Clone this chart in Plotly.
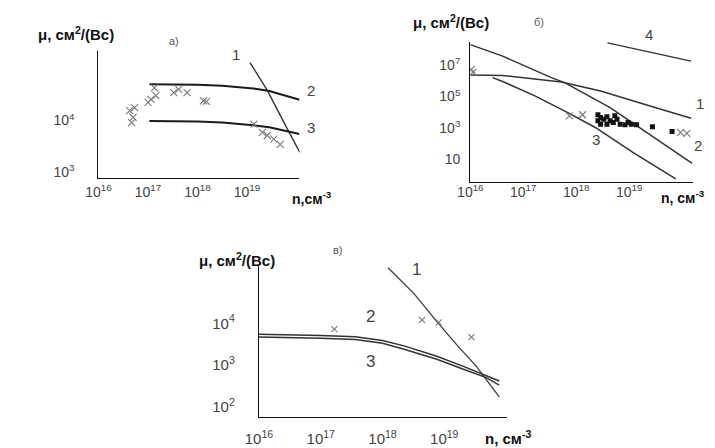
import plotly.graph_objects as go

W, H = 715, 448

# ---------------- Panel а) ----------------
a_c1_lgn = [19.06, 19.41, 19.84, 20.07]
a_c1_lgmu = [5.12, 4.58, 3.79, 3.38]
a_c2_lgn = [17.03, 17.5, 18.0, 18.5, 18.9, 19.2, 19.45, 19.75, 20.06]
a_c2_lgmu = [4.70, 4.70, 4.69, 4.67, 4.64, 4.61, 4.57, 4.49, 4.40]
a_c3_lgn = [17.03, 17.5, 18.0, 18.5, 18.9, 19.2, 19.45, 19.8, 20.06]
a_c3_lgmu = [3.99, 3.99, 3.98, 3.96, 3.93, 3.90, 3.87, 3.79, 3.74]
a_exp_lgn = [16.63, 16.70, 16.67, 16.73, 17.00, 17.06, 17.16, 17.13, 17.52, 17.62, 17.79,
             18.12, 18.18, 19.14, 19.31, 19.41, 19.54, 19.67]
a_exp_lgmu = [4.19, 4.06, 3.96, 4.25, 4.35, 4.41, 4.48, 4.63, 4.54, 4.60, 4.54,
              4.38, 4.37, 3.93, 3.77, 3.71, 3.64, 3.54]

# ---------------- Panel б) ----------------
b_c1_lgn = [16.0, 16.61, 17.72, 18.46, 19.38, 20.17]
b_c1_lgmu = [6.37, 6.34, 5.92, 5.35, 4.41, 3.62]
b_c2_lgn = [16.0, 16.61, 17.53, 17.78, 18.64, 19.20, 19.69, 20.19]
b_c2_lgmu = [8.30, 7.57, 6.20, 5.88, 4.30, 3.03, 1.87, 0.75]
b_c3_lgn = [16.42, 16.61, 17.22, 17.84, 18.36, 19.07, 19.88]
b_c3_lgmu = [6.20, 5.95, 5.04, 3.98, 3.03, 1.45, -0.24]
b_c4_lgn = [18.59, 20.17]
b_c4_lgmu = [8.41, 7.25]
b_x_lgn = [16.02, 16.05, 17.87, 18.12, 19.97, 20.09]
b_x_lgmu = [6.72, 6.55, 3.77, 3.84, 2.72, 2.65]
b_dot_lgn = [18.41, 18.41, 18.46, 18.52, 18.58, 18.64, 18.70, 18.77, 18.83, 18.92,
             18.98, 19.04, 19.14, 18.46, 18.58, 18.73, 19.44, 19.81]
b_dot_lgmu = [3.84, 3.46, 3.66, 3.56, 3.71, 3.46, 3.35, 3.56, 3.24, 3.20,
              3.35, 3.24, 3.20, 3.24, 3.24, 3.77, 3.08, 2.78]

# ---------------- Panel в) ----------------
c_c1_lgn = [18.09, 18.51, 18.88, 19.20, 19.52, 19.68, 19.89]
c_c1_lgmu = [5.33, 4.71, 4.04, 3.49, 2.97, 2.65, 2.24]
c_c2_lgn = [16.0, 16.5, 17.0, 17.56, 18.0, 18.35, 18.88, 19.31, 19.68, 19.89]
c_c2_lgmu = [3.74, 3.73, 3.71, 3.68, 3.59, 3.46, 3.21, 2.97, 2.75, 2.62]
c_c3_lgn = [16.0, 16.5, 17.0, 17.56, 18.0, 18.35, 18.88, 19.31, 19.68, 19.89]
c_c3_lgmu = [3.67, 3.66, 3.64, 3.61, 3.52, 3.38, 3.14, 2.90, 2.70, 2.52]
c_exp_lgn = [17.22, 18.64, 18.91, 19.44]
c_exp_lgmu = [3.86, 4.08, 4.02, 3.67]

# tick labels
x_tick_exp = [16, 17, 18, 19]
a_y_tick_exp = [3, 4]
b_y_tick_exp = [1, 3, 5, 7]
c_y_tick_exp = [2, 3, 4]


def pw(v):
    return [10 ** e for e in v]


def sup(e):
    return "10" if e == 1 else "10<sup>%d</sup>" % e


FONT = "Liberation Sans, Arial, sans-serif"
LINE = "#1a1a1a"
GREY = "#555555"

fig = go.Figure()


def curve(xs, ys, ax, width=1.6, color=LINE):
    fig.add_trace(go.Scatter(x=pw(xs), y=pw(ys), mode="lines",
                             line=dict(color=color, width=width),
                             xaxis="x" + ax, yaxis="y" + ax, showlegend=False,
                             hoverinfo="skip"))


def xmarks(xs, ys, ax, size=7):
    fig.add_trace(go.Scatter(x=pw(xs), y=pw(ys), mode="markers",
                             marker=dict(symbol="x-thin", size=size,
                                         line=dict(width=1.1, color="#7a7a7a")),
                             xaxis="x" + ax, yaxis="y" + ax, showlegend=False,
                             hoverinfo="skip"))


# panel a -> axes "" (x, y)
curve(a_c1_lgn, a_c1_lgmu, "", 1.4, "#333")
curve(a_c2_lgn, a_c2_lgmu, "", 2.0)
curve(a_c3_lgn, a_c3_lgmu, "", 2.0)
xmarks(a_exp_lgn, a_exp_lgmu, "")

# panel b -> axes 2
curve(b_c1_lgn, b_c1_lgmu, "2", 1.5, "#333")
curve(b_c2_lgn, b_c2_lgmu, "2", 1.5, "#333")
curve(b_c3_lgn, b_c3_lgmu, "2", 1.5, "#333")
curve(b_c4_lgn, b_c4_lgmu, "2", 1.5, "#333")
xmarks(b_x_lgn, b_x_lgmu, "2")
fig.add_trace(go.Scatter(x=pw(b_dot_lgn), y=pw(b_dot_lgmu), mode="markers",
                         marker=dict(symbol="square", size=5, color="#111"),
                         xaxis="x2", yaxis="y2", showlegend=False, hoverinfo="skip"))

# panel c -> axes 3
curve(c_c1_lgn, c_c1_lgmu, "3", 1.4, "#444")
curve(c_c2_lgn, c_c2_lgmu, "3", 1.5, "#333")
curve(c_c3_lgn, c_c3_lgmu, "3", 1.5, "#333")
xmarks(c_exp_lgn, c_exp_lgmu, "3", 6)


def xax(dom, rng, standoff, anchor, size=14):
    return dict(type="log", domain=dom, range=rng, anchor=anchor,
                showgrid=False, zeroline=False, showline=True, linecolor="#111",
                linewidth=1.4, ticks="", tickvals=pw(x_tick_exp),
                ticktext=[sup(e) for e in x_tick_exp],
                tickfont=dict(family=FONT, size=size, color="#444"),
                ticklabelstandoff=standoff)


def yax(dom, rng, exps, standoff, anchor, size=14):
    return dict(type="log", domain=dom, range=rng, anchor=anchor,
                showgrid=False, zeroline=False, showline=True, linecolor="#111",
                linewidth=1.4, ticks="", tickvals=pw(exps),
                ticktext=[sup(e) for e in exps],
                tickfont=dict(family=FONT, size=size, color="#444"),
                ticklabelstandoff=standoff)


def dom_x(p0, p1):
    return [p0 / W, p1 / W]


def dom_y(top, bottom):
    return [1 - bottom / H, 1 - top / H]


fig.update_layout(
    width=W, height=H, margin=dict(l=0, r=0, t=0, b=0),
    paper_bgcolor="white", plot_bgcolor="white",
    xaxis=xax(dom_x(78, 283), [16, 16 + 205 / 50.5], 1, "y"),
    yaxis=yax(dom_y(43, 171), [4 - 58 / 52, 4 + 70 / 52], a_y_tick_exp, 20, "x"),
    xaxis2=xax(dom_x(457.3, 684), [16, 16 + 226.7 / 54], -3, "y2"),
    yaxis2=yax(dom_y(34, 175), [7 - 117.7 / 15.8, 7 + 23.3 / 15.8], b_y_tick_exp, 6, "x2"),
    xaxis3=xax(dom_x(241.7, 495), [16, 16 + 253.3 / 63], 8, "y3", 15),
    yaxis3=yax(dom_y(259, 410.7), [4 - 94 / 42, 4 + 57.7 / 42], c_y_tick_exp, 20, "x3", 15),
)


def note(text, x, y, size=15, color=GREY, bold=False, xanchor="center"):
    if bold:
        text = "<b>" + text + "</b>"
    fig.add_annotation(text=text, x=x / W, y=1 - y / H, xref="paper", yref="paper",
                       showarrow=False, xanchor=xanchor, yanchor="middle",
                       font=dict(family=FONT, size=size, color=color))


TITLE = "μ, см<sup>2</sup>/(Вс)"
note(TITLE, 55, 26, 15, "#111", True)
note(TITLE, 438, 14, 15, "#111", True)
note(TITLE, 219, 253, 15, "#111", True)
note("n,см<sup>-3</sup>", 273, 191, 14, "#111", True, "left")
note("n, см<sup>-3</sup>", 650, 190, 14, "#111", True, "left")
note("n, см<sup>-3</sup>", 470, 431, 15, "#111", True, "left")

note("а)", 155, 33, 11)
note("б)", 527, 14, 11)
note("в)", 322, 243, 11)

for t, x, y in [("1", 218, 47), ("2", 295, 83), ("3", 295, 120)]:
    note(t, x, y, 15, "#444")
for t, x, y in [("4", 640, 27), ("1", 692, 96), ("2", 690, 138), ("3", 585, 132)]:
    note(t, x, y, 15, "#444")
for t, x, y in [("1", 402, 263), ("2", 355, 310), ("3", 355, 355)]:
    note(t, x, y, 17, "#444")

fig.write_html("out.html")
